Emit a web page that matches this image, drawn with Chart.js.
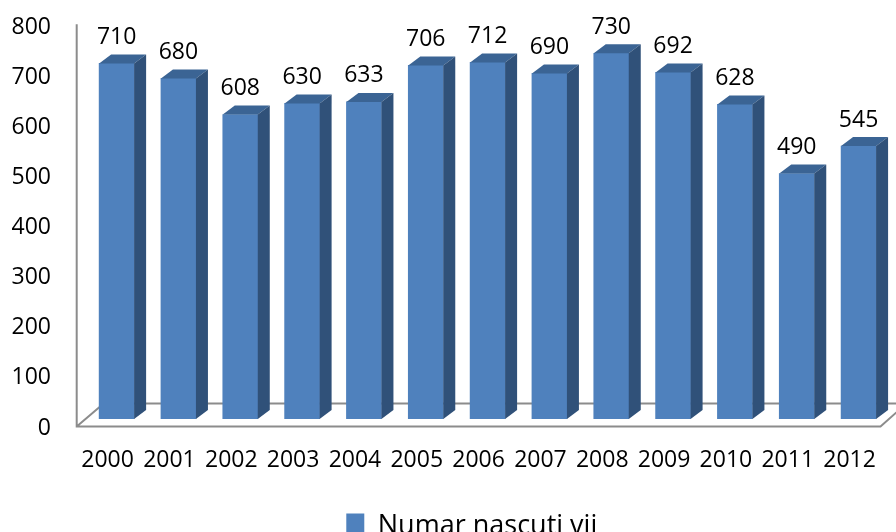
<!DOCTYPE html>
<html>
<head>
<meta charset="utf-8">
<script src="https://cdn.jsdelivr.net/npm/chart.js@4"></script>
<style>
  html, body { margin: 0; padding: 0; background: #fff; overflow: hidden; width: 896px; height: 532px; }
  canvas { display: block; }
</style>
</head>
<body>
<canvas id="myChart" width="896" height="550"></canvas>
<script>
// Numar nascuti vii per year
const years = ['2000', '2001', '2002', '2003', '2004', '2005', '2006', '2007', '2008', '2009', '2010', '2011', '2012'];
const births = [710, 680, 608, 630, 633, 706, 712, 690, 730, 692, 628, 490, 545];
const yTicks = [0, 100, 200, 300, 400, 500, 600, 700, 800];

const FONT = '"Open Sans", sans-serif';
// fake 3d depth of the bars
const depthX = 12, depthY = 9;

const noPadding = s => {
  s.paddingTop = s.paddingBottom = s.paddingLeft = s.paddingRight = 0;
};

const fake3d = {
  id: 'fake3d',
  afterLayout(chart) {
    // legend is off centre in the original
    chart.legend.left += 27;
    chart.legend.right += 27;
  },
  beforeDatasetsDraw(chart) {
    const { ctx, chartArea, scales } = chart;
    const zero = scales.y.getPixelForValue(0);
    const top = scales.y.getPixelForValue(800);
    const axisX = chartArea.left - 9;
    const frontY = zero + 7.5;
    const backY = zero - 15.5;
    ctx.save();
    ctx.strokeStyle = '#8c8c8c';
    ctx.lineWidth = 2;
    ctx.beginPath();
    ctx.moveTo(axisX, top + 6);
    ctx.lineTo(axisX, frontY);
    ctx.lineTo(chartArea.right - 9, frontY);
    ctx.lineTo(chartArea.right + 17, backY);
    ctx.moveTo(axisX, frontY);
    ctx.lineTo(axisX + 27, backY);
    ctx.lineTo(chartArea.right + 17, backY);
    ctx.stroke();
    ctx.restore();
  },
  afterDatasetsDraw(chart) {
    const { ctx } = chart;
    const bars = chart.getDatasetMeta(0).data;
    ctx.save();
    bars.forEach((bar, i) => {
      const l = bar.x - bar.width / 2, r = bar.x + bar.width / 2;
      // top face
      ctx.fillStyle = '#3b6494';
      ctx.beginPath();
      ctx.moveTo(l, bar.y);
      ctx.lineTo(l + depthX, bar.y - depthY);
      ctx.lineTo(r + depthX, bar.y - depthY);
      ctx.lineTo(r, bar.y);
      ctx.closePath();
      ctx.fill();
      // side face
      ctx.fillStyle = '#305179';
      ctx.beginPath();
      ctx.moveTo(r, bar.y);
      ctx.lineTo(r + depthX, bar.y - depthY);
      ctx.lineTo(r + depthX, bar.base - depthY);
      ctx.lineTo(r, bar.base);
      ctx.closePath();
      ctx.fill();
      // value label
      ctx.fillStyle = '#000';
      ctx.font = '23px ' + FONT;
      ctx.textAlign = 'center';
      ctx.textBaseline = 'middle';
      ctx.fillText(births[i], bar.x, bar.y - 26);
    });
    ctx.restore();
  }
};

new Chart(document.getElementById('myChart').getContext('2d'), {
  type: 'bar',
  data: {
    labels: years,
    datasets: [{
      label: 'Numar nascuti vii',
      data: births,
      backgroundColor: '#4f81bd',
      barThickness: 35
    }]
  },
  options: {
    responsive: false,
    animation: false,
    layout: { padding: { top: 18.3, right: 6.5, left: 0, bottom: 0 } },
    plugins: {
      tooltip: { enabled: false },
      legend: {
        position: 'bottom',
        labels: {
          color: '#000',
          font: { family: FONT, size: 27 },
          boxWidth: 18,
          boxHeight: 26,
          padding: 10
        }
      }
    },
    scales: {
      x: {
        grid: { display: false },
        border: { display: false },
        afterFit: s => { s.height = 84; noPadding(s); },
        ticks: {
          color: '#000',
          font: { family: FONT, size: 23 },
          padding: 20,
          labelOffset: -9,
          maxRotation: 0,
          autoSkip: false
        }
      },
      y: {
        min: 0,
        max: 800,
        grid: { display: false },
        border: { display: false },
        afterFit: s => { s.width = 85.7; noPadding(s); },
        afterBuildTicks: s => { s.ticks = yTicks.map(v => ({ value: v })); },
        ticks: {
          color: '#000',
          font: { family: FONT, size: 23 },
          padding: 26.7,
          labelOffset: 9
        }
      }
    }
  },
  plugins: [fake3d]
});
</script>
</body>
</html>
